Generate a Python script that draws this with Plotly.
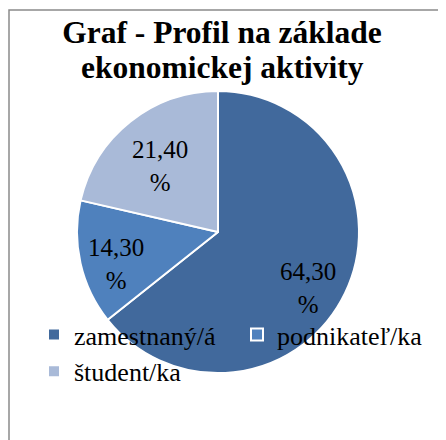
import math
import plotly.graph_objects as go

categories = ["zamestnaný/á", "podnikateľ/ka", "študent/ka"]
values = [64.30, 14.30, 21.40]
colors = ["#41699C", "#4F81BD", "#A9BAD8"]
title_line1 = "Graf - Profil na základe"
title_line2 = "ekonomickej aktivity"

slice_text = [f"{v:.2f}".replace(".", ",") + "<br>%" for v in values]
# style: radial position and angular nudge (degrees) of each data label
label_radius = [0.74, 0.75, 0.64]
label_nudge = [5, -3, -1.7]

W, H = 446, 440
cx, cy, r = 210, 224, 141
title_x = 214 / W

fig = go.Figure()
fig.add_trace(go.Pie(
    labels=categories,
    values=values,
    textinfo="none",
    marker=dict(colors=colors, line=dict(color="white", width=2)),
    sort=False,
    direction="clockwise",
    rotation=0,
    domain=dict(x=[(cx - r) / W, (cx + r) / W],
                y=[(H - cy - r) / H, (H - cy + r) / H]),
    hoverinfo="label+percent",
))

# data labels placed near the middle angle of each slice
total = sum(values)
cum = 0.0
annotations = []
for v, t, f, dn in zip(values, slice_text, label_radius, label_nudge):
    mid = (cum + v / 2) / total * 2 * math.pi + math.radians(dn)
    cum += v
    px = cx + f * r * math.sin(mid)
    py = cy - f * r * math.cos(mid)
    annotations.append(dict(
        x=px / W, y=1 - py / H, xref="paper", yref="paper",
        text=t, showarrow=False, xanchor="center", yanchor="middle",
        yshift=-3,
        font=dict(family="Liberation Serif", size=25, color="black")))

annotations.append(dict(
    x=title_x, y=1 - 60 / H, xref="paper", yref="paper",
    text=f"<b>{title_line2}</b>", showarrow=False,
    xanchor="center", yanchor="middle",
    font=dict(family="Liberation Serif", size=31.5, color="black")))

fig.update_layout(
    width=W, height=H,
    margin=dict(l=0, r=0, t=0, b=0, pad=0, autoexpand=False),
    paper_bgcolor="white",
    title=dict(text=f"<b>{title_line1}</b>", x=title_x, xanchor="center", xref="paper",
               y=1 - 24 / H, yanchor="middle", yref="container",
               font=dict(family="Liberation Serif", size=31.5, color="black")),
    annotations=annotations,
    legend=dict(orientation="h", x=26 / W, xanchor="left",
                y=1 - 303 / H, yanchor="top",
                bgcolor="rgba(0,0,0,0)",
                font=dict(family="Liberation Serif", size=26, color="black"),
                entrywidth=158, entrywidthmode="pixels",
                traceorder="normal"),
    shapes=[dict(type="rect", xref="paper", yref="paper",
                 x0=1 / W, x1=1.05, y0=-0.05, y1=1 - 2 / H,
                 line=dict(color="#8a8a8a", width=1.5), layer="below")],
)

fig.write_html("out.html")
